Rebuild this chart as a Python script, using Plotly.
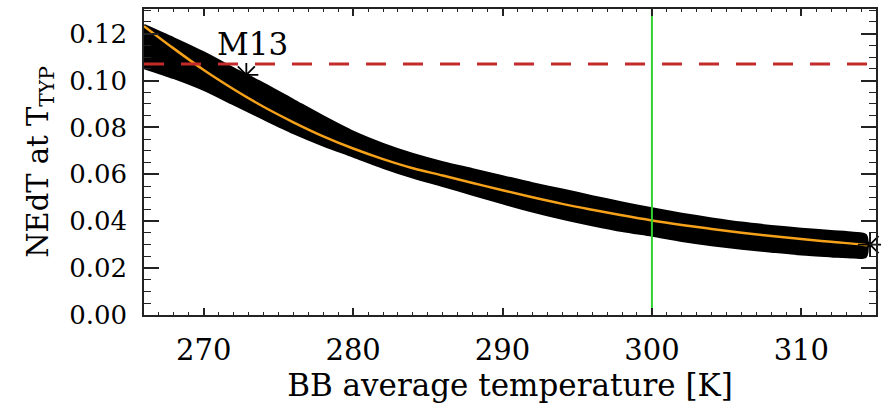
import plotly.graph_objects as go

# ---- data ----
temps = [266, 268, 270, 272, 274, 276, 278, 280, 282, 284, 286, 288, 290,
         292, 294, 296, 298, 300, 302, 304, 306, 308, 310, 312, 314, 315]
fit_nedt = [0.1232, 0.1136, 0.1045, 0.0963, 0.0888, 0.0822, 0.0762, 0.0710,
            0.0665, 0.0626, 0.0595, 0.0563, 0.0532, 0.0502, 0.0474, 0.0449,
            0.0425, 0.0403, 0.0384, 0.0367, 0.0351, 0.0337, 0.0324, 0.0312,
            0.0301, 0.0296]
band_temps = [266, 268, 270, 272, 274, 276, 278, 280, 282, 284, 286, 288, 290,
              292, 294, 296, 298, 300, 302, 304, 306, 308, 310, 312, 313.5, 314.3]
band_upper = [0.1235, 0.1178, 0.1118, 0.1050, 0.0985, 0.0915, 0.0845, 0.0780,
              0.0728, 0.0685, 0.0650, 0.0620, 0.0590, 0.0560, 0.0533, 0.0505,
              0.0478, 0.0453, 0.0430, 0.0410, 0.0392, 0.0378, 0.0366, 0.0356,
              0.0349, 0.0340]
band_lower = [0.1055, 0.1012, 0.0962, 0.0900, 0.0838, 0.0778, 0.0725, 0.0678,
              0.0630, 0.0588, 0.0552, 0.0515, 0.0478, 0.0443, 0.0412, 0.0385,
              0.0360, 0.0340, 0.0318, 0.0300, 0.0285, 0.0272, 0.0260, 0.0252,
              0.0247, 0.0250]
fit_temps = temps[:-1] + [314.5]
star_temps = [272.85, 314.6]
star_nedt = [0.1024, 0.0300]
label_text = "M13"
label_temp = 273.25
label_nedt = 0.1155
spec_nedt = 0.107     # red dashed requirement line
ref_temp = 300.0      # green vertical line
x_ticks = [270, 280, 290, 300, 310]
y_ticks = [0.00, 0.02, 0.04, 0.06, 0.08, 0.10, 0.12]
x_range = [266.0, 315.0]
y_range = [0.0, 0.1305]

FONT = "DejaVu Serif"
AX = "#222222"

fig = go.Figure()

# scatter band of measurements (dense black)
fig.add_trace(go.Scatter(
    x=band_temps + band_temps[::-1], y=band_upper + band_lower[::-1],
    fill="toself", fillcolor="black", mode="lines",
    line=dict(color="black", width=3, shape="spline", smoothing=0.8),
    hoverinfo="skip", showlegend=False))

# fit curve
fig.add_trace(go.Scatter(x=fit_temps, y=fit_nedt, mode="lines",
                         line=dict(color="#F5A21A", width=2.5, shape="spline"),
                         showlegend=False))

# highlighted points
fig.add_trace(go.Scatter(x=star_temps, y=star_nedt, mode="markers",
                         cliponaxis=False,
                         marker=dict(symbol="asterisk-open", size=20, color="black",
                                     line=dict(color="black", width=1.8)),
                         showlegend=False))

# red dashed spec line
fig.add_trace(go.Scatter(x=x_range, y=[spec_nedt, spec_nedt], mode="lines",
                         line=dict(color="#C42A2A", width=3, dash="20px,17px"),
                         showlegend=False))

# green reference temperature
fig.add_trace(go.Scatter(x=[ref_temp, ref_temp], y=y_range, mode="lines",
                         line=dict(color="#2FD22F", width=2),
                         showlegend=False))

fig.add_annotation(x=label_temp, y=label_nedt, text=label_text, showarrow=False,
                   font=dict(family=FONT, size=31, color="black"))

fig.update_layout(
    width=881, height=406,
    margin=dict(l=144, r=3, t=9, b=91),
    paper_bgcolor="white", plot_bgcolor="white",
    font=dict(family=FONT, color="black"),
)

fig.update_xaxes(
    range=x_range, tickvals=x_ticks, ticks="inside", ticklen=7, tickwidth=1.5,
    tickcolor=AX, showline=True, linecolor=AX, linewidth=1.5, mirror="ticks",
    showgrid=False, zeroline=False,
    tickfont=dict(family=FONT, size=29, color="black"),
    ticklabelstandoff=8,
    minor=dict(dtick=1, ticks="inside", ticklen=3.5, tickcolor=AX, tickwidth=1.2, showgrid=False),
    title=dict(text="BB average temperature [K]", standoff=8,
               font=dict(family=FONT, size=31, color="black")),
)
fig.update_yaxes(
    range=y_range, tickvals=y_ticks, tickformat=".2f", ticks="inside", ticklen=15,
    tickwidth=1.5, tickcolor=AX, showline=True, linecolor=AX, linewidth=1.5,
    mirror="ticks", showgrid=False, zeroline=False,
    tickfont=dict(family=FONT, size=26, color="black"),
    ticklabelstandoff=10,
    minor=dict(dtick=0.005, ticks="inside", ticklen=7.5, tickcolor=AX, tickwidth=1.2, showgrid=False),
    title=dict(text="NEdT at T<sub>TYP</sub>", standoff=12,
               font=dict(family=FONT, size=29, color="black")),
)

fig.write_html("out.html")
